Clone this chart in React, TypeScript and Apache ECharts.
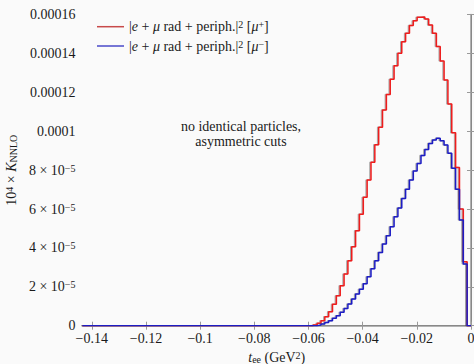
import React, { useEffect, useRef } from 'react';
import * as echarts from 'echarts';

// Histogram binning (bins run left to right, last edge at 0)
const BIN_WIDTH = 0.00142;
const N_BINS = 101;
const FIRST_TAIL_BIN = 60; // bins before this index are empty

// Bin contents for bins FIRST_TAIL_BIN .. N_BINS-1
const RED_TAIL = [
  0.4e-6, 1.2e-6, 2.6e-6, 4.6e-6, 7.2e-6, 1.1e-5, 1.54e-5, 2.06e-5, 2.66e-5, 3.34e-5,
  4.06e-5, 4.89e-5, 5.73e-5, 6.61e-5, 7.5e-5, 8.41e-5, 9.31e-5, 1.021e-4, 1.11e-4, 1.19e-4,
  1.268e-4, 1.338e-4, 1.402e-4, 1.461e-4, 1.504e-4, 1.545e-4, 1.569e-4, 1.587e-4, 1.588e-4, 1.578e-4,
  1.547e-4, 1.504e-4, 1.437e-4, 1.362e-4, 1.264e-4, 1.141e-4, 9.93e-5, 8.14e-5, 6.0e-5, 3.29e-5,
  0,
];
const BLUE_TAIL = [
  0, 0.3e-6, 0.9e-6, 1.7e-6, 2.6e-6, 3.8e-6, 5.1e-6, 6.9e-6, 8.9e-6, 1.12e-5,
  1.37e-5, 1.63e-5, 1.87e-5, 2.16e-5, 2.52e-5, 2.93e-5, 3.34e-5, 3.76e-5, 4.2e-5, 4.63e-5,
  5.09e-5, 5.61e-5, 6.06e-5, 6.55e-5, 7.02e-5, 7.5e-5, 7.96e-5, 8.35e-5, 8.75e-5, 9.07e-5,
  9.38e-5, 9.55e-5, 9.64e-5, 9.52e-5, 9.3e-5, 8.87e-5, 8.1e-5, 7.02e-5, 5.44e-5, 3.17e-5,
  0,
];

const X_TICKS = [-0.14, -0.12, -0.1, -0.08, -0.06, -0.04, -0.02, 0];
const X_TICK_LABELS = ['−0.14', '−0.12', '−0.1', '−0.08', '−0.06', '−0.04', '−0.02', '0'];
const Y_MAX = 0.00016;
const Y_STEP = 0.00002;
const Y_TICK_LABELS = [
  '0',
  '2 × 10{sup|−5}',
  '4 × 10{sup|−5}',
  '6 × 10{sup|−5}',
  '8 × 10{sup|−5}',
  '0.0001',
  '0.00012',
  '0.00014',
  '0.00016',
];
const SERIES_NAMES = ['muplus', 'muminus'];
const LEGEND_LABELS = [
  '|{i|e} + {i|μ} rad + periph.|{sup|2} [{i|μ}{sup|+}]',
  '|{i|e} + {i|μ} rad + periph.|{sup|2} [{i|μ}{sup|−}]',
];
const NOTE_LINES = ['no identical particles,', 'asymmetric cuts'];

const FONT = "'Liberation Serif', 'DejaVu Serif', serif";
const TEXT_COLOR = '#1a1a1a';
const FS = 14;

const rich = {
  i: { fontFamily: FONT, fontStyle: 'italic', fontSize: FS, color: TEXT_COLOR },
  sup: { fontFamily: FONT, fontSize: 10, verticalAlign: 'top', color: TEXT_COLOR },
  sub: { fontFamily: FONT, fontSize: 10, verticalAlign: 'bottom', color: TEXT_COLOR },
};

function histPoints(tail: number[]) {
  const pts: number[][] = [];
  const start = -N_BINS * BIN_WIDTH;
  for (let i = 0; i < N_BINS; i++) {
    const v = i < FIRST_TAIL_BIN ? 0 : tail[i - FIRST_TAIL_BIN];
    const left = start + i * BIN_WIDTH;
    pts.push([left, v], [left + BIN_WIDTH, v]);
  }
  return pts;
}

export default function App() {
  const ref = useRef<HTMLDivElement>(null);
  useEffect(() => {
    if (!ref.current) return;
    const chart = echarts.init(ref.current, null, { renderer: 'svg' });
    const xMin = -N_BINS * BIN_WIDTH;
    const axisGray = '#9a9a9a';
    const xLabel = (v: number) => {
      const idx = X_TICKS.findIndex((t) => Math.abs(t - v) < 1e-9);
      return idx >= 0 ? X_TICK_LABELS[idx] : '';
    };
    chart.setOption({
      animation: false,
      backgroundColor: '#fafafa',
      grid: { left: 82.5, right: 3, top: 14.7, bottom: 38.3, containLabel: false, outerBoundsMode: 'none' },
      xAxis: [
        {
          type: 'value',
          min: xMin,
          max: 0,
          position: 'bottom',
          splitLine: { show: false },
          axisLine: { show: true, lineStyle: { color: axisGray, width: 1.5 } },
          axisTick: { show: true, inside: true, length: 4, customValues: X_TICKS, lineStyle: { color: axisGray } },
          axisLabel: {
            customValues: X_TICKS,
            formatter: xLabel,
            fontFamily: FONT,
            fontSize: FS,
            color: TEXT_COLOR,
            margin: 6,
          },
          name: '{i|t}{sub|ee} (GeV{sup|2})',
          nameLocation: 'middle',
          nameGap: 20,
          nameTextStyle: { fontFamily: FONT, fontSize: FS, color: TEXT_COLOR, rich },
        },
        {
          type: 'value',
          min: xMin,
          max: 0,
          position: 'top',
          splitLine: { show: false },
          axisLine: { show: true, lineStyle: { color: '#888', width: 1 } },
          axisTick: { show: true, inside: true, length: 4, customValues: X_TICKS, lineStyle: { color: axisGray } },
          axisLabel: { show: false },
        },
      ],
      yAxis: [
        {
          type: 'value',
          min: 0,
          max: Y_MAX,
          interval: Y_STEP,
          position: 'left',
          splitLine: { show: false },
          axisLine: { show: true, lineStyle: { color: '#b0b0b0', width: 2 } },
          axisTick: { show: true, inside: true, length: 4, lineStyle: { color: axisGray } },
          axisLabel: {
            formatter: (v: number) => Y_TICK_LABELS[Math.round(v / Y_STEP)] ?? '',
            fontFamily: FONT,
            fontSize: FS,
            color: TEXT_COLOR,
            margin: 7,
            rich,
          },
          name: '10{sup|4} × {i|K}{sub|NNLO}',
          nameLocation: 'middle',
          nameRotate: 90,
          nameGap: 61,
          nameTextStyle: { fontFamily: FONT, fontSize: FS, color: TEXT_COLOR, rich },
        },
        {
          type: 'value',
          min: 0,
          max: Y_MAX,
          interval: Y_STEP,
          position: 'right',
          splitLine: { show: false },
          axisLine: { show: true, lineStyle: { color: '#888', width: 1 } },
          axisTick: { show: true, inside: true, length: 4, lineStyle: { color: axisGray } },
          axisLabel: { show: false },
        },
      ],
      legend: {
        show: true,
        orient: 'vertical',
        left: 92,
        top: 14.7,
        icon: 'rect',
        itemWidth: 27,
        itemHeight: 1.5,
        itemGap: 5.3,
        data: SERIES_NAMES,
        formatter: (name: string) => LEGEND_LABELS[SERIES_NAMES.indexOf(name)],
        textStyle: { fontFamily: FONT, fontSize: FS, color: TEXT_COLOR, rich },
      },
      graphic: [
        {
          type: 'text',
          style: {
            x: 241,
            y: 119,
            text: NOTE_LINES.join('\n'),
            fontFamily: FONT,
            fontSize: FS,
            lineHeight: 15,
            textAlign: 'center',
            fill: TEXT_COLOR,
          },
        },
      ],
      series: [
        {
          name: SERIES_NAMES[0],
          type: 'line',
          symbol: 'none',
          data: histPoints(RED_TAIL),
          lineStyle: {
            color: '#ee1c1c',
            width: 1.5,
            shadowColor: 'rgba(60,60,60,0.45)',
            shadowBlur: 0,
            shadowOffsetX: -1,
            shadowOffsetY: 0,
          },
          itemStyle: { color: '#c84a4a' },
          z: 3,
        },
        {
          name: SERIES_NAMES[1],
          type: 'line',
          symbol: 'none',
          data: histPoints(BLUE_TAIL),
          lineStyle: {
            color: '#1c1cc4',
            width: 1.5,
            shadowColor: 'rgba(60,60,60,0.45)',
            shadowBlur: 0,
            shadowOffsetX: -1,
            shadowOffsetY: 0,
          },
          itemStyle: { color: '#4a4ac8' },
          z: 4,
        },
      ],
    });
    return () => chart.dispose();
  }, []);
  return (
    <div
      ref={ref}
      style={{ position: 'fixed', left: 0, top: 0, width: 474, height: 364, background: '#fafafa' }}
    />
  );
}
